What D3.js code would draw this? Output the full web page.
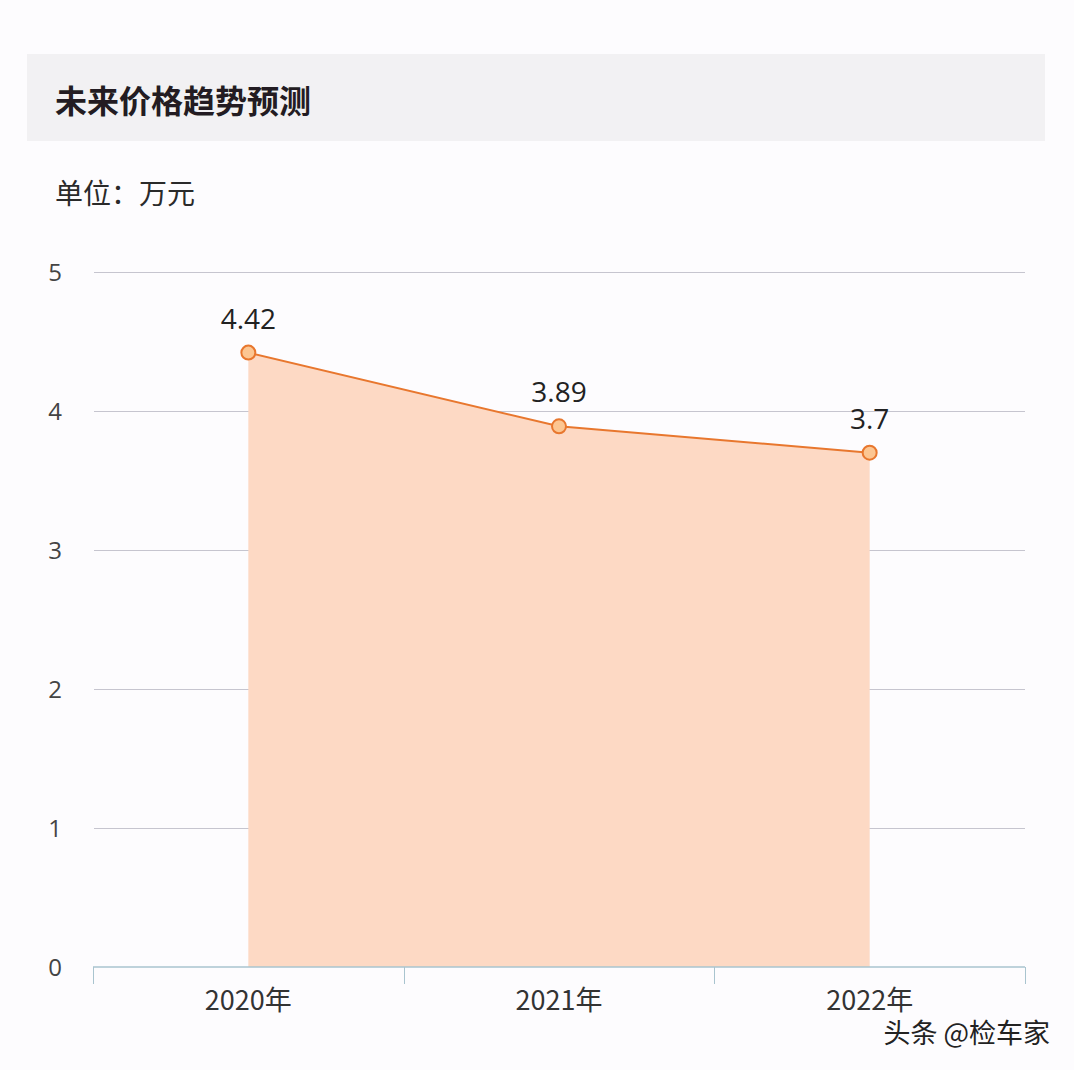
<!DOCTYPE html>
<html><head><meta charset="utf-8">
<script src="https://cdn.jsdelivr.net/npm/d3@7"></script>
<style>
html,body{margin:0;padding:0;background:#fdfcfe;}
</style></head>
<body>
<svg id="c" width="1074" height="1070"></svg>
<script>
const categories = ["2020年", "2021年", "2022年"];
const values = [4.42, 3.89, 3.7];
const yTicks = [0, 1, 2, 3, 4, 5];
const title = "未来价格趋势预测";
const unitLabel = "单位：万元";
const watermark = "头条 @检车家";

const svg = d3.select("#c");
const font = "'Noto Sans CJK SC','Noto Sans',sans-serif";
svg.append("rect").attr("width",1074).attr("height",1070).attr("fill","#fdfcfe");
svg.append("rect").attr("x",27).attr("y",54).attr("width",1018).attr("height",87).attr("fill","#f2f1f3");
svg.append("text").attr("x",55).attr("y",113).text(title)
  .attr("font-family",font).attr("font-size",32).attr("font-weight","bold").attr("fill","#231c22");
svg.append("text").attr("x",55).attr("y",204).text(unitLabel)
  .attr("font-family",font).attr("font-size",28).attr("fill","#2a2a2a");

const x = d3.scaleBand().domain(categories).range([93,1025]);
const y = d3.scaleLinear().domain([0,5]).range([967,272]);

// gridlines
svg.append("g").selectAll("line").data(yTicks.filter(d=>d>0)).join("line")
  .attr("x1",94).attr("x2",1025).attr("y1",d=>Math.round(y(d))+0.5).attr("y2",d=>Math.round(y(d))+0.5)
  .attr("stroke","#c6c5cf").attr("stroke-width",1);

// y labels
svg.append("g").selectAll("text").data(yTicks).join("text")
  .attr("x",55).attr("y",d=>y(d)+9).attr("text-anchor","middle")
  .attr("font-family","'Open Sans',sans-serif").attr("font-size",24).attr("fill","#444")
  .text(d=>d);

const cx = d=>x(d)+x.bandwidth()/2;
const data = categories.map((c,i)=>({c, v: values[i]}));

// area
const area = d3.area().x(d=>cx(d.c)).y0(y(0)).y1(d=>y(d.v));
svg.append("path").datum(data).attr("d",area).attr("fill","#fdd9c4");
const line = d3.line().x(d=>cx(d.c)).y(d=>y(d.v));
svg.append("path").datum(data).attr("d",line).attr("fill","none")
  .attr("stroke","#e8772e").attr("stroke-width",2);

// x axis
const gx = svg.append("g").attr("transform","translate(0,967)");
gx.append("line").attr("x1",93).attr("x2",1025).attr("y1",0).attr("y2",0).attr("stroke","#a9c4cf").attr("stroke-width",1.5);
const bounds = categories.map(c=>x(c)).concat([x(categories[categories.length-1])+x.bandwidth()]);
gx.selectAll("line.tk").data(bounds).join("line").attr("class","tk")
  .attr("x1",d=>Math.round(d)+0.5).attr("x2",d=>Math.round(d)+0.5).attr("y1",0).attr("y2",17).attr("stroke","#a9c4cf").attr("stroke-width",1);
gx.selectAll("text.lb").data(categories).join("text").attr("class","lb")
  .attr("x",d=>cx(d)).attr("y",43).attr("text-anchor","middle")
  .attr("font-family",font).attr("font-size",27).attr("fill","#333").text(d=>d);

// points
svg.append("g").selectAll("circle").data(data).join("circle")
  .attr("cx",d=>cx(d.c)).attr("cy",d=>y(d.v)).attr("r",7)
  .attr("fill","#fcc692").attr("stroke","#e8772e").attr("stroke-width",2);

// labels
svg.append("g").selectAll("text").data(data).join("text")
  .attr("x",d=>cx(d.c)).attr("y",d=>y(d.v)-24).attr("text-anchor","middle")
  .attr("font-family","'Open Sans',sans-serif").attr("font-size",28).attr("fill","#222")
  .text(d=>d.v);

svg.append("text").attr("x",1050).attr("y",1043).attr("text-anchor","end")
  .attr("font-family",font).attr("font-size",27).attr("fill","#222").text(watermark);
</script>
</body></html>
